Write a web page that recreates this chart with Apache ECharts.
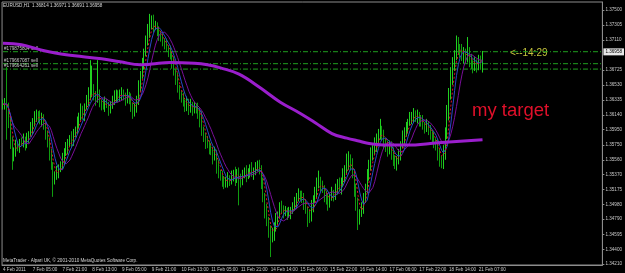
<!DOCTYPE html>
<html>
<head>
<meta charset="utf-8">
<title>EURUSD,H1</title>
<script src="https://cdn.jsdelivr.net/npm/echarts@6/dist/echarts.min.js"></script>
<style>
  html, body { margin: 0; padding: 0; background: #000; }
  #main { width: 625px; height: 273px; }
</style>
</head>
<body>
<div id="main"></div>
<script>
    // prices are kept in pips above BASE
    var BASE = 1.34;
    var firstOpen = 226;

    var closes = [
        228,232,225,205,180,160,168,175,172,180,
        178,182,176,185,190,198,205,210,215,212,
        208,212,200,190,178,165,150,130,135,140,
        145,150,158,165,170,178,185,180,190,195,
        205,212,220,215,225,232,238,245,248,240,
        235,240,230,228,225,230,228,222,226,232,
        238,242,236,240,244,238,235,240,236,225,
        218,222,235,250,265,280,295,310,322,330,
        335,328,330,322,318,314,310,305,300,298,
        292,282,270,262,250,240,238,230,225,230,
        222,228,220,225,222,218,210,195,185,180,
        178,172,168,160,165,150,140,135,130,125,
        128,132,128,135,138,132,140,130,128,138,
        142,136,140,144,138,142,146,150,145,128,
        110,92,78,65,55,60,70,80,85,95,
        92,88,90,85,88,92,95,100,108,112,
        110,105,100,92,85,82,95,105,115,125,
        130,122,118,110,105,100,108,112,110,118,
        125,120,128,135,142,150,158,152,140,120,
        100,80,88,95,105,120,135,150,160,168,
        175,182,190,195,188,180,172,168,175,165,
        158,150,155,162,175,185,192,198,205,208,
        212,215,210,214,208,205,200,198,202,195,
        190,185,180,175,165,155,150,165,190,215,
        240,262,278,290,305,300,298,290,295,288,
        296,285,280,276,282,278,286,281,296
    ];
    var wickUp = [
        6,4,44,5,8,6,4,7,5,3,
        5,8,4,6,3,7,5,9,6,4,
        8,5,3,6,4,7,5,3,6,8,
        5,4,7,6,9,5,3,8,6,4,
        7,5,9,6,4,8,12,40,30,6,
        5,45,7,4,6,8,5,3,6,7,
        8,5,4,7,6,3,5,8,4,6,
        5,7,4,9,6,8,5,7,10,15,
        8,9,6,4,7,5,6,3,8,4,
        6,5,8,4,7,3,6,5,4,8,
        5,7,3,6,4,8,5,9,4,6,
        7,3,6,5,8,4,6,3,7,5,
        6,8,4,7,5,9,4,6,8,5,
        4,7,5,6,9,4,7,5,6,4,
        5,3,7,4,6,8,5,7,4,6,
        8,5,6,4,7,3,6,8,5,7,
        4,6,8,5,3,7,9,5,6,8,
        12,4,7,5,6,8,4,9,5,7,
        6,8,5,10,7,14,9,5,6,4,
        5,7,4,6,8,5,9,6,12,7,
        10,8,6,14,5,7,4,9,6,5,
        7,4,6,8,5,9,6,7,4,10,
        6,8,5,7,4,6,9,5,7,4,
        6,5,7,4,8,5,6,10,8,12,
        9,14,11,8,12,10,6,8,7,5,
        19,6,8,5,7,4,6,5,1
    ];
    var wickDn = [
        5,7,43,8,10,17,6,8,5,7,
        4,6,8,5,7,4,9,6,5,8,
        6,9,5,8,6,10,7,22,6,5,
        8,5,6,9,4,7,5,8,6,5,
        6,8,5,7,9,4,6,5,8,7,
        9,5,6,8,4,7,5,9,6,4,
        5,8,6,4,7,5,9,6,8,7,
        9,6,5,8,6,4,7,5,6,8,
        5,7,4,6,8,5,7,6,4,9,
        6,8,5,9,7,6,8,5,7,6,
        8,5,7,4,6,9,12,8,6,10,
        7,9,6,10,5,12,8,6,9,7,
        5,8,6,4,7,10,6,33,8,5,
        6,9,5,7,4,8,6,5,8,10,
        9,12,8,10,25,6,9,7,8,5,
        6,8,5,7,4,9,6,5,8,6,
        7,5,9,6,16,8,6,7,5,9,
        6,8,5,9,7,10,6,5,8,6,
        7,5,9,6,8,4,7,10,8,12,
        10,15,8,6,9,5,7,6,8,5,
        6,9,5,8,7,10,6,8,5,9,
        10,6,8,5,7,4,9,6,8,5,
        6,8,5,7,9,6,5,8,6,7,
        8,6,9,7,10,8,5,6,9,7,
        8,6,9,7,5,8,10,6,9,7,
        6,9,7,8,5,9,6,8,12
    ];

    // slow moving average, read at a few bars (bar index, pips)
    var slowIdx  = [0,10,21,34,53,63,74,80,90,103,110,117,127,138,149,160,168,177,185,192,197,207,217,234,246,258];
    var slowVals = [307,305,298,292,287,283,279,280,282,281,279,275,267,250,231,216,204,190,184,180,177,175,175,178,180,182];

    var timeLabels = ['4 Feb 2011','7 Feb 05:00','7 Feb 21:00','8 Feb 13:00','9 Feb 05:00','9 Feb 21:00',
        '10 Feb 13:00','11 Feb 05:00','11 Feb 21:00','14 Feb 14:00','15 Feb 06:00','15 Feb 22:00',
        '16 Feb 14:00','17 Feb 06:00','17 Feb 22:00','18 Feb 14:00','21 Feb 07:00'];
    var priceLabels = [1.34210,1.34400,1.34595,1.34790,1.34980,1.35175,1.35370,1.35560,1.35750,
        1.35950,1.36140,1.36335,1.36530,1.36725,1.37110,1.37305,1.37500];

    var orderLevels = [1.36960, 1.36805, 1.36735];
    var orderNames = ['#179875804 sell', '#179667087 sell', '#179664261 sell'];
    var bid = 1.36958;

    var slots = 323;      // bar slots across the window (incl. right shift)
    var labelStep = 16;   // a time label every 16 bars
    var smallFont = 'Liberation Sans';
    var orderGreen = '#1fa01f';

    function px(p) { return +(BASE + p / 10000).toFixed(5); }

    var cats = [];
    for (var i = 0; i < slots; i++) cats.push(String(i));

    var candles = closes.map(function (c, i) {
        var o = i === 0 ? firstOpen : closes[i - 1];
        return [px(o), px(c), px(Math.min(o, c) - wickDn[i]), px(Math.max(o, c) + wickUp[i])];
    });

    function sma(n) {
        return closes.map(function (c, i) {
            var s = 0, k = 0;
            for (var j = Math.max(0, i - n + 1); j <= i; j++) { s += closes[j]; k++; }
            return px(s / k);
        });
    }

    var slowMa = slowIdx.map(function (x, i) { return [x, px(slowVals[i])]; });

    function showTime(idx) { return idx % labelStep === 0 && idx / labelStep < timeLabels.length; }

    // order levels drawn as flat lines across the window
    var orderSeries = orderLevels.map(function (v) {
        return {
            type: 'line', data: [[0, v], [slots - 1, v]], symbol: 'none', silent: true, z: 2,
            lineStyle: { color: orderGreen, type: [5, 2, 1, 2], width: 1 }
        };
    });

    // labels for the orders and the bid (their marker lines are transparent)
    var levelLabels = orderLevels.map(function (v, i) {
        return {
            yAxis: v,
            label: {
                show: true, position: 'insideStartTop', formatter: orderNames[i],
                color: '#c8c8c8', fontSize: 4.6, distance: [2, 0.5]
            }
        };
    });
    levelLabels.push({
        yAxis: bid,
        label: {
            show: true, position: 'end', formatter: bid.toFixed(5),
            color: '#000', backgroundColor: '#e8e8e8', fontSize: 4.6,
            padding: [1, 2], distance: 1
        }
    });

    var myChart = echarts.init(document.getElementById('main'));

    var option = {
        backgroundColor: '#000',
        animation: false,
        textStyle: { fontFamily: smallFont },
        grid: { left: 0, right: 18, top: 2, bottom: 8, show: true, borderColor: '#8c8c8c', borderWidth: 1 },
        xAxis: {
            type: 'category',
            data: cats,
            axisLine: { lineStyle: { color: '#8c8c8c' } },
            axisTick: { alignWithLabel: true, interval: showTime, length: 2, lineStyle: { color: '#8c8c8c' } },
            axisLabel: {
                interval: showTime,
                formatter: function (v, idx) { return timeLabels[idx / labelStep] || ''; },
                align: 'left', color: '#c8c8c8', fontSize: 4.6, margin: 2
            },
            splitLine: { show: false }
        },
        yAxis: {
            type: 'value',
            position: 'right',
            min: 1.34197,
            max: 1.37604,
            axisLine: { show: true, lineStyle: { color: '#8c8c8c' } },
            axisTick: { show: true, length: 2, customValues: priceLabels, lineStyle: { color: '#8c8c8c' } },
            axisLabel: {
                customValues: priceLabels,
                formatter: function (v) { return v.toFixed(5); },
                color: '#c8c8c8', fontSize: 4.6, margin: 3, align: 'left'
            },
            splitLine: { show: false }
        },
        series: orderSeries.concat([
            {
                type: 'candlestick',
                data: candles,
                barWidth: 1,
                itemStyle: {
                    color: '#5cff5c', color0: '#22b822',
                    borderColor: '#20d020', borderColor0: '#109c10', borderWidth: 1
                }
            },
            {
                type: 'line', data: sma(10), symbol: 'none',
                lineStyle: { color: '#7a0e9a', width: 1 }, z: 3
            },
            {
                type: 'line', data: sma(6), symbol: 'none',
                lineStyle: { color: '#2a48c8', width: 1 }, z: 3
            },
            {
                type: 'line', data: sma(4), symbol: 'none',
                lineStyle: { color: '#e0102a', width: 1, type: [2, 2] }, z: 4
            },
            {
                type: 'line', data: slowMa, symbol: 'none', smooth: 0.4,
                lineStyle: { color: '#9a1ecc', width: 3 }, z: 5
            },
            {
                type: 'line', data: [], z: 6,
                markLine: {
                    symbol: 'none', silent: true, precision: 5,
                    lineStyle: { color: 'rgba(0,0,0,0)', width: 0 },
                    data: levelLabels
                }
            }
        ]),
        graphic: [
            { type: 'text', left: 3, top: 3,
              style: { text: 'EURUSD,H1  1.36814 1.36971 1.36691 1.36958', fill: '#d8d8d8', font: '4.6px ' + smallFont } },
            { type: 'text', left: 3, top: 258,
              style: { text: 'MetaTrader - Alpari UK, \u00a9 2001-2010 MetaQuotes Software Corp.', fill: '#d8d8d8', font: '4.6px ' + smallFont } },
            { type: 'text', left: 510, top: 48,
              style: { text: '<--14:29', fill: '#c4c43c', font: '10px ' + smallFont } },
            { type: 'text', left: 472, top: 101,
              style: { text: 'my target', fill: '#e0102a', font: '18.5px ' + smallFont } }
        ]
    };

    myChart.setOption(option);
</script>
</body>
</html>
